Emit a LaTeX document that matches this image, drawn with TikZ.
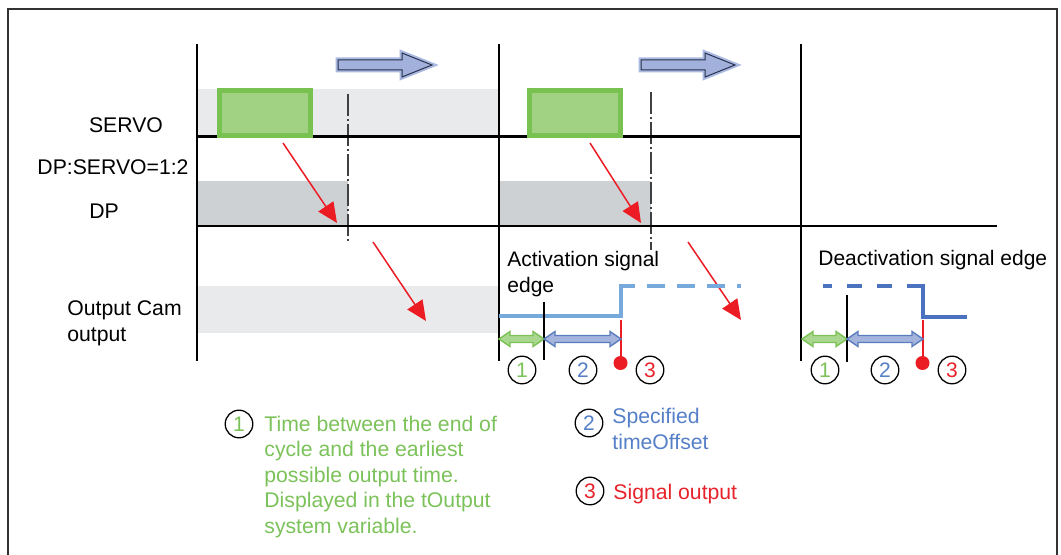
\documentclass[tikz,border=0pt]{standalone}
\usepackage{fontspec}
\setmainfont{Liberation Sans}
\usetikzlibrary{arrows.meta}
\definecolor{framec}{HTML}{333333}
\definecolor{lgray}{HTML}{E9EAEB}
\definecolor{dgray}{HTML}{CED1D4}
\definecolor{gborder}{HTML}{79C150}
\definecolor{gfill}{HTML}{A1D183}
\definecolor{lblue}{HTML}{78A9DC}
\definecolor{dblue}{HTML}{4A72BF}
\definecolor{redc}{HTML}{EC1C24}
\definecolor{gtext}{HTML}{7CC25A}
\definecolor{btext}{HTML}{5580C8}
\definecolor{rtext}{HTML}{E8222B}
\definecolor{bafill}{HTML}{A2B1DC}
\definecolor{bahalo}{HTML}{AAB9E2}
\definecolor{baline}{HTML}{262E4A}
\definecolor{dagfill}{HTML}{A9D78F}
\definecolor{dagline}{HTML}{7BC153}
\definecolor{dabfill}{HTML}{A4B4DC}
\definecolor{dabline}{HTML}{5B7DBF}
\newcommand\dblarrow[4]{%
  \draw[#4] (#1,#3) -- ({#1+11},{#3-7.5}) -- ({#1+11},{#3-3.5}) -- ({#2-11},{#3-3.5})
    -- ({#2-11},{#3-7.5}) -- (#2,#3) -- ({#2-11},{#3+7.5}) -- ({#2-11},{#3+3.5})
    -- ({#1+11},{#3+3.5}) -- ({#1+11},{#3+7.5}) -- cycle;}
\newcommand\blockarrow[1]{%
  \draw[bhalo] ({338+#1},60) -- ({402+#1},60) -- ({402+#1},53) -- ({432+#1},65)
    -- ({402+#1},77) -- ({402+#1},70) -- ({338+#1},70) -- cycle;
  \draw[bbody] ({338+#1},60) -- ({402+#1},60) -- ({402+#1},53) -- ({432+#1},65)
    -- ({402+#1},77) -- ({402+#1},70) -- ({338+#1},70) -- cycle;}
\tikzset{
  frameline/.style={draw=framec, line width=0.8pt},
  lband/.style={fill=lgray},
  dband/.style={fill=dgray},
  greenbox/.style={draw=gborder, fill=gfill, line width=2.5pt, minimum width=45.5pt, minimum height=22.5pt, inner sep=0pt},
  dashdotline/.style={draw=black!75, line width=0.6pt, dash pattern=on 11pt off 1.5pt on 1pt off 1.5pt},
  hline/.style={draw=black, line width=1.15pt},
  vline/.style={draw=black, line width=1.35pt},
  tickline/.style={draw=black, line width=1.3pt},
  redarr/.style={draw=redc, line width=0.75pt, -{Triangle[length=10pt,width=9pt]}},
  redline/.style={draw=redc, line width=0.75pt},
  sigl/.style={draw=lblue, line width=2pt},
  sigd/.style={draw=dblue, line width=2pt},
  numc/.style={circle, draw=black, line width=0.65pt, minimum size=13.8pt, inner sep=0pt, font=\fontsize{10.5}{13}\selectfont},
  garrow/.style={draw=dagline, fill=dagfill, line width=0.7pt},
  barrow/.style={draw=dabline, fill=dabfill, line width=0.7pt},
  bhalo/.style={draw=bahalo, line width=2.5pt},
  bbody/.style={draw=baline, fill=bafill, line width=0.5pt},
  lbl/.style={inner sep=0pt, font=\fontsize{10.6}{13}\selectfont},
  slbl/.style={inner sep=0pt, font=\fontsize{10.5}{13}\selectfont},
  leg/.style={inner sep=0pt, align=left, font=\fontsize{10.6}{12.75}\selectfont},
}
\begin{document}
\begin{tikzpicture}[x=0.5pt,y=-0.5pt]
\useasboundingbox (0,0) rectangle (1061,555);
\clip (0,0) rectangle (1061,555);
\fill[white] (0,0) rectangle (1061,555);
\draw[frameline] (8,9) rectangle (1057,620);

% bands
\fill[lband] (197,89) rectangle (499,136);
\fill[dband] (197,181) rectangle (348,226);
\fill[dband] (499,181) rectangle (651,226);
\fill[lband] (197,286) rectangle (499,333);

% dash-dot lines
\draw[dashdotline] (348,94) -- (348,242);
\draw[dashdotline] (651,92) -- (651,250);

% grid lines
\draw[hline] (197,136.5) -- (801,136.5);
\draw[hline] (197,226) -- (997,226);
\draw[vline] (197,44) -- (197,361);
\draw[vline] (499,44) -- (499,361);
\draw[vline] (801,44) -- (801,361);

% green boxes
\node[greenbox] (g1) at (265,113) {};
\node[greenbox] (g2) at (575,113) {};

% blue block arrows
\blockarrow{0}
\blockarrow{303}

% red arrows
\coordinate (r1s) at (283,143); \coordinate (r1e) at (337,223);
\coordinate (r2s) at (373,242); \coordinate (r2e) at (426,321);
\coordinate (r3s) at (590,143); \coordinate (r3e) at (641,223);
\coordinate (r4s) at (688,242); \coordinate (r4e) at (741,320);
\draw[redarr] (r1s) -- (r1e);
\draw[redarr] (r2s) -- (r2e);
\draw[redarr] (r3s) -- (r3e);
\draw[redarr] (r4s) -- (r4e);

% activation signal
\draw[sigl] (499,316.5) -- (621,316.5) -- (621,286) -- (635,286);
\draw[sigl, dash pattern=on 9pt off 6pt] (647,286) -- (741,286);
\draw[tickline] (544,302) -- (544,360);
\draw[redline] (621,320) -- (621,360);
\fill[redc] (620.5,363) circle (3.5pt);
\dblarrow{499}{544}{339}{garrow}
\dblarrow{544}{621}{339}{barrow}

% deactivation signal
\draw[sigd] (823,286) -- (832,286);
\draw[sigd] (847,286) -- (862,286);
\draw[sigd] (877,286) -- (892,286);
\draw[sigd] (907,286) -- (923,286) -- (923,317) -- (967,317);
\draw[tickline] (847,295) -- (847,362);
\draw[redline] (923,320) -- (923,360);
\fill[redc] (922.5,363) circle (3.5pt);
\dblarrow{802}{847}{339}{garrow}
\dblarrow{847}{923}{339}{barrow}

% number circles
\node[numc, text=gtext] (a1) at (522,370) {1};
\node[numc, text=btext] (a2) at (583,370) {2};
\node[numc, text=rtext] (a3) at (650,370) {3};
\node[numc, text=gtext] (d1) at (825,370) {1};
\node[numc, text=btext] (d2) at (885,370) {2};
\node[numc, text=rtext] (d3) at (952,370) {3};

% row labels
\node[lbl, anchor=base] (lservo) at (126,132.5) {SERVO};
\node[lbl, anchor=base] (lratio) at (113,174.5) {DP:SERVO=1:2};
\node[lbl, anchor=base] (ldp) at (104,218.5) {DP};
\node[lbl, anchor=west, align=left] (lcam) at (67,323) {Output Cam\\output};
\node[slbl, anchor=west, align=left] (lact) at (507,274) {Activation signal\\edge};
\node[slbl, anchor=base west] (ldeact) at (818,265.8) {Deactivation signal edge};

% legend
\node[numc, text=gtext] (k1) at (239,424) {1};
\node[leg, anchor=west, text=gtext] (t1) at (264,477) {Time between the end of\\cycle and the earliest\\possible output time.\\Displayed in the tOutput\\system variable.};
\node[numc, text=btext] (k2) at (589,423) {2};
\node[leg, anchor=west, text=btext] (t2) at (612,429) {Specified\\timeOffset};
\node[numc, text=rtext] (k3) at (590,491) {3};
\node[leg, anchor=base west, text=rtext] (t3) at (613,499.5) {Signal output};
\end{tikzpicture}
\end{document}
